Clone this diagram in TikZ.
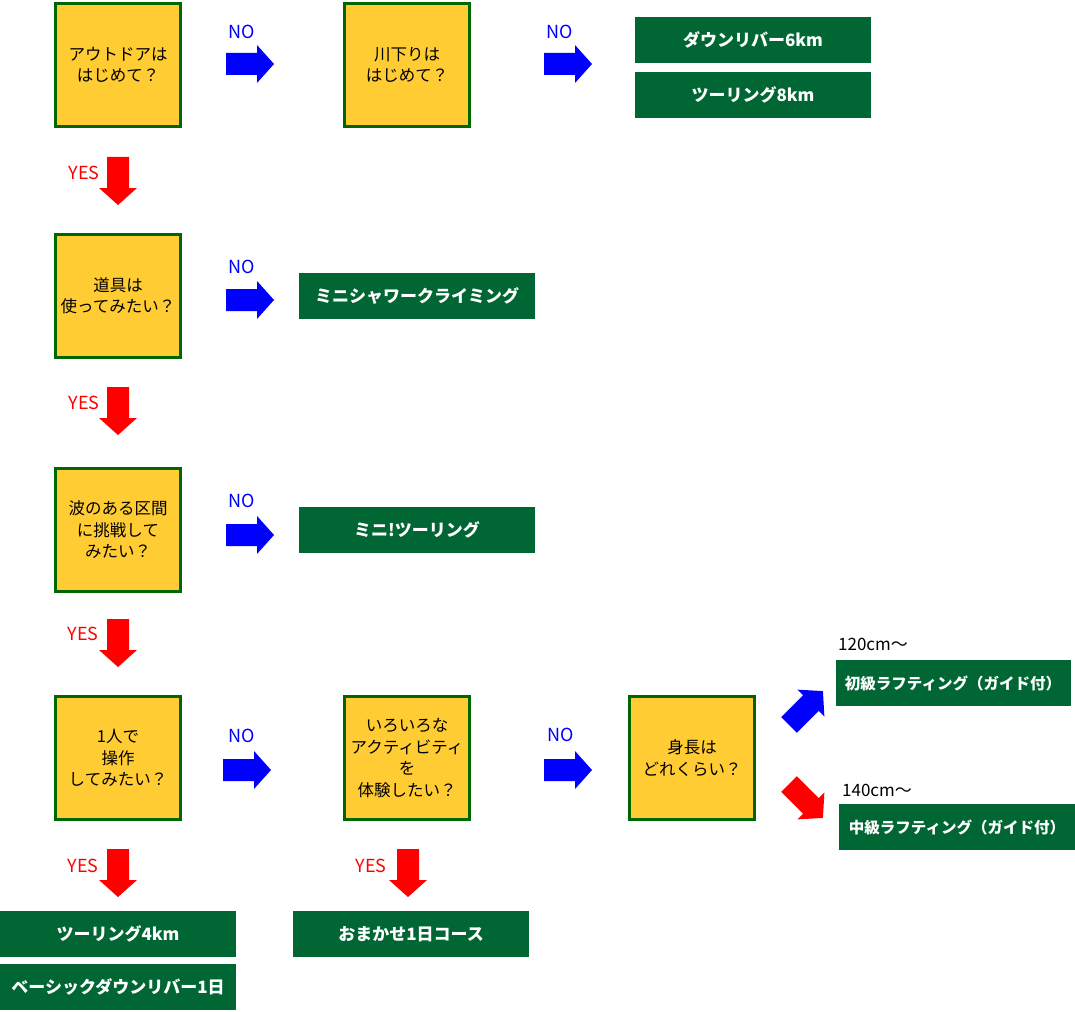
\documentclass[tikz,border=0pt]{standalone}
\usepackage{fontspec}
\setmainfont{Noto Sans CJK JP}
\definecolor{qyellow}{HTML}{FFCC33}
\definecolor{qborder}{HTML}{006600}
\definecolor{rgreen}{HTML}{006633}
\tikzset{
 qbox/.style={draw=qborder, line width=3pt, fill=qyellow, minimum width=125pt, minimum height=123pt, align=center, font=\fontsize{16.5}{21.5}\selectfont, inner sep=0pt},
 rbox/.style={fill=rgreen, minimum width=236pt, minimum height=46pt, text=white, font=\fontsize{17}{20}\selectfont\bfseries, inner sep=0pt},
 rboxs/.style={rbox, font=\fontsize{15.5}{20}\selectfont\bfseries},
 nolab/.style={text=blue, font=\fontsize{18}{18}\selectfont, inner sep=0pt},
 yeslab/.style={text=red, font=\fontsize{18}{18}\selectfont, inner sep=0pt},
 cmlab/.style={text=black, font=\fontsize{17}{17}\selectfont, inner sep=0pt},
 pics/barrow/.style={code={\fill (0,-11)--(31,-11)--(31,-19)--(48,0)--(31,19)--(31,11)--(0,11)--cycle;}}
}
\begin{document}
\begin{tikzpicture}[x=1pt,y=-1pt]
\useasboundingbox (0,0) rectangle (1075,1011);
% questions
\node[qbox] (q1) at (118,65) {アウトドアは\\はじめて？};
\node[qbox] (q2) at (407,65) {川下りは\\はじめて？};
\node[qbox] (q3) at (118,296) {道具は\\使ってみたい？};
\node[qbox] (q4) at (118,530) {波のある区間\\に挑戦して\\みたい？};
\node[qbox] (q5) at (118,758) {1人で\\操作\\してみたい？};
\node[qbox] (q6) at (407,758) {いろいろな\\アクティビティ\\を\\体験したい？};
\node[qbox] (q7) at (692,758) {身長は\\どれくらい？};
% results
\node[rbox] (g1) at (753,40) {ダウンリバー6km};
\node[rbox] (g2) at (753,95) {ツーリング8km};
\node[rbox] (g3) at (417,296) {ミニシャワークライミング};
\node[rbox] (g4) at (417,530) {ミニ!ツーリング};
\node[rboxs, minimum width=235pt] (g5) at (953,683) {初級ラフティング（ガイド付）};
\node[rboxs] (g6) at (957,827) {中級ラフティング（ガイド付）};
\node[rbox] (g7) at (118,934) {ツーリング4km};
\node[rbox] (g8) at (118,987) {ベーシックダウンリバー1日};
\node[rbox] (g9) at (411,934) {おまかせ1日コース};
% NO arrows
\pic[blue] at (226,64) {barrow};
\pic[blue] at (544,64) {barrow};
\pic[blue] at (226,300) {barrow};
\pic[blue] at (226,535) {barrow};
\pic[blue] at (223,770) {barrow};
\pic[blue] at (544,770) {barrow};
% YES arrows
\pic[red, rotate=-90] at (118,157) {barrow};
\pic[red, rotate=-90] at (118,387) {barrow};
\pic[red, rotate=-90] at (118,619) {barrow};
\pic[red, rotate=-90] at (118,849) {barrow};
\pic[red, rotate=-90] at (408,849) {barrow};
% diagonal
\pic[blue, rotate=45] at (789,725) {barrow};
\pic[red, rotate=-45] at (789,784) {barrow};
% labels
\node[nolab] (n1) at (242,32) {NO};
\node[nolab] (n2) at (560,32) {NO};
\node[nolab] (n3) at (242,267) {NO};
\node[nolab] (n4) at (242,501) {NO};
\node[nolab] (n5) at (242,736) {NO};
\node[nolab] (n6) at (561,735) {NO};
\node[yeslab] (y1) at (84,173) {YES};
\node[yeslab] (y2) at (84,403) {YES};
\node[yeslab] (y3) at (83,634) {YES};
\node[yeslab] (y4) at (83,866) {YES};
\node[yeslab] (y5) at (371,866) {YES};
\node[cmlab] (c1) at (873,644) {120cm〜};
\node[cmlab] (c2) at (877,790) {140cm〜};
\end{tikzpicture}
\end{document}
